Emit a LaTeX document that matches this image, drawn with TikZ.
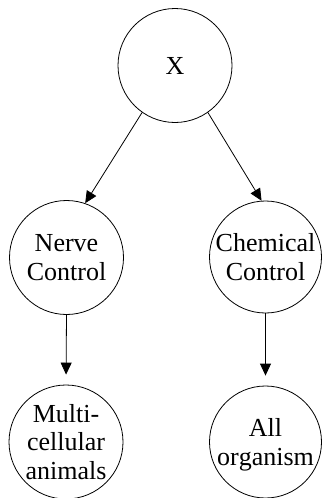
\documentclass[tikz,border=0pt]{standalone}
\usepackage{fontspec}
\setmainfont{Liberation Serif}
\usetikzlibrary{arrows.meta}
\begin{document}
\begin{tikzpicture}[x=1pt,y=-1pt,
  bubble/.style={circle,draw,line width=0.8pt,inner sep=0pt,minimum size=114pt,align=center,font=\fontsize{26}{28.5}\selectfont},
  link/.style={line width=0.8pt,-{Triangle[length=12pt,width=11pt]}}]
\useasboundingbox (0,0) rectangle (324,498);
\node[bubble] (x) at (175,65.5) {X};
\node[bubble] (nerve) at (66.5,257.5) {Nerve\\Control};
\node[bubble,minimum size=112pt] (chem) at (265.5,257) {Chemical\\Control};
\node[bubble] (multi) at (66,442) {Multi-\\cellular\\animals};
\node[bubble,minimum size=112pt] (all) at (265.5,442) {All\\or\smash{g}anism};
\draw[link] (x.235) -- (nerve.71);
\draw[link] (x.305) -- (chem.94);
\draw[link,shorten >=10pt] (nerve.south) -- (multi.north);
\draw[link,shorten >=10pt] (chem.south) -- (all.north);
\end{tikzpicture}
\end{document}
